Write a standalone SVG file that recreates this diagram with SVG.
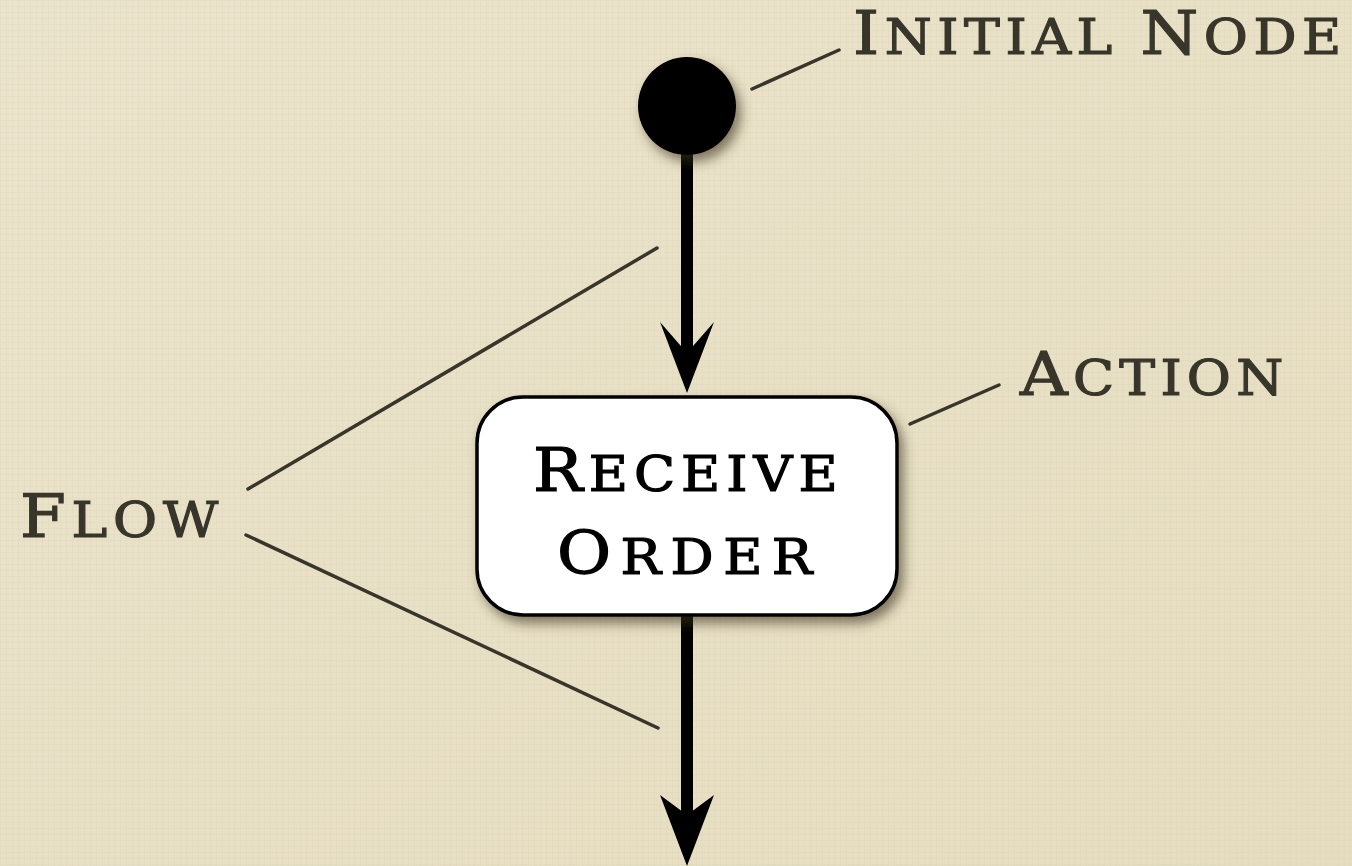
<svg xmlns="http://www.w3.org/2000/svg" width="1352" height="866" viewBox="0 0 1352 866">
<defs>
<linearGradient id="bg" x1="0" y1="0" x2="1" y2="1">
<stop offset="0" stop-color="#ebe4cc"/>
<stop offset="1" stop-color="#e6ddc0"/>
</linearGradient>
<pattern id="tex" width="6" height="6" patternUnits="userSpaceOnUse">
<path d="M0 0.5H6M0.5 0V6" stroke="#d8ceb0" stroke-width="1" opacity="0.25"/>
</pattern>
<filter id="sh" x="-30%" y="-30%" width="170%" height="170%">
<feDropShadow dx="5" dy="7" stdDeviation="6" flood-color="#3a3220" flood-opacity="0.6"/>
</filter>
<style>
.lbl{font-family:"DejaVu Serif","Liberation Serif",serif;fill:#38352a;stroke:#38352a;stroke-width:1.2;}
.nt{font-family:"DejaVu Serif","Liberation Serif",serif;fill:#000;stroke:#000;stroke-width:1.2;}
.big{font-size:59px;}
.sm{font-size:48px;}
.lead{stroke:#38352a;stroke-width:3.5;fill:none;stroke-linecap:round;}
.shaft{stroke:#000;stroke-width:12;fill:none;}
.head{fill:#000;}
</style>
</defs>
<rect width="1352" height="866" fill="url(#bg)"/>
<rect width="1352" height="866" fill="url(#tex)"/>

<g id="connectors">
<line class="shaft" x1="687" y1="150" x2="687" y2="358"/>
<polygon class="head" points="687,393 660,322 687,353 714,322"/>
<line class="shaft" x1="687" y1="614" x2="687" y2="820"/>
<polygon class="head" points="687,866 660,795 687,815 714,795"/>
<line class="lead" x1="752" y1="89" x2="839" y2="50"/>
<line class="lead" x1="910" y1="424" x2="999" y2="385"/>
<line class="lead" x1="248" y1="489" x2="657" y2="248"/>
<line class="lead" x1="246" y1="535" x2="658" y2="728"/>
</g>

<g id="initial-node">
<circle cx="687" cy="106" r="49" fill="#000" filter="url(#sh)"/>
</g>

<g id="action-node">
<rect x="477" y="397" width="420" height="218" rx="46" ry="46" fill="#fff" stroke="#000" stroke-width="3.5" filter="url(#sh)"/>
<text class="nt" transform="translate(533 491) scale(1.12 1)" x="0" y="0" textLength="272" lengthAdjust="spacing"><tspan class="big">R</tspan><tspan class="sm">ECEIVE</tspan></text>
<text class="nt" transform="translate(557 574) scale(1.12 1)" x="0" y="0" textLength="228" lengthAdjust="spacing"><tspan class="big">O</tspan><tspan class="sm">RDER</tspan></text>
</g>

<g id="label-initial">
<text class="lbl" transform="translate(853 54) scale(1.12 1)" x="0" y="0" textLength="436" lengthAdjust="spacing"><tspan class="big">I</tspan><tspan class="sm">NITIAL </tspan><tspan class="big">N</tspan><tspan class="sm">ODE</tspan></text>
</g>
<g id="label-action">
<text class="lbl" transform="translate(1020 395) scale(1.12 1)" x="0" y="0" textLength="235" lengthAdjust="spacing"><tspan class="big">A</tspan><tspan class="sm">CTION</tspan></text>
</g>
<g id="label-flow">
<text class="lbl" transform="translate(20 537) scale(1.12 1)" x="0" y="0" textLength="177" lengthAdjust="spacing"><tspan class="big">F</tspan><tspan class="sm">LOW</tspan></text>
</g>
</svg>
